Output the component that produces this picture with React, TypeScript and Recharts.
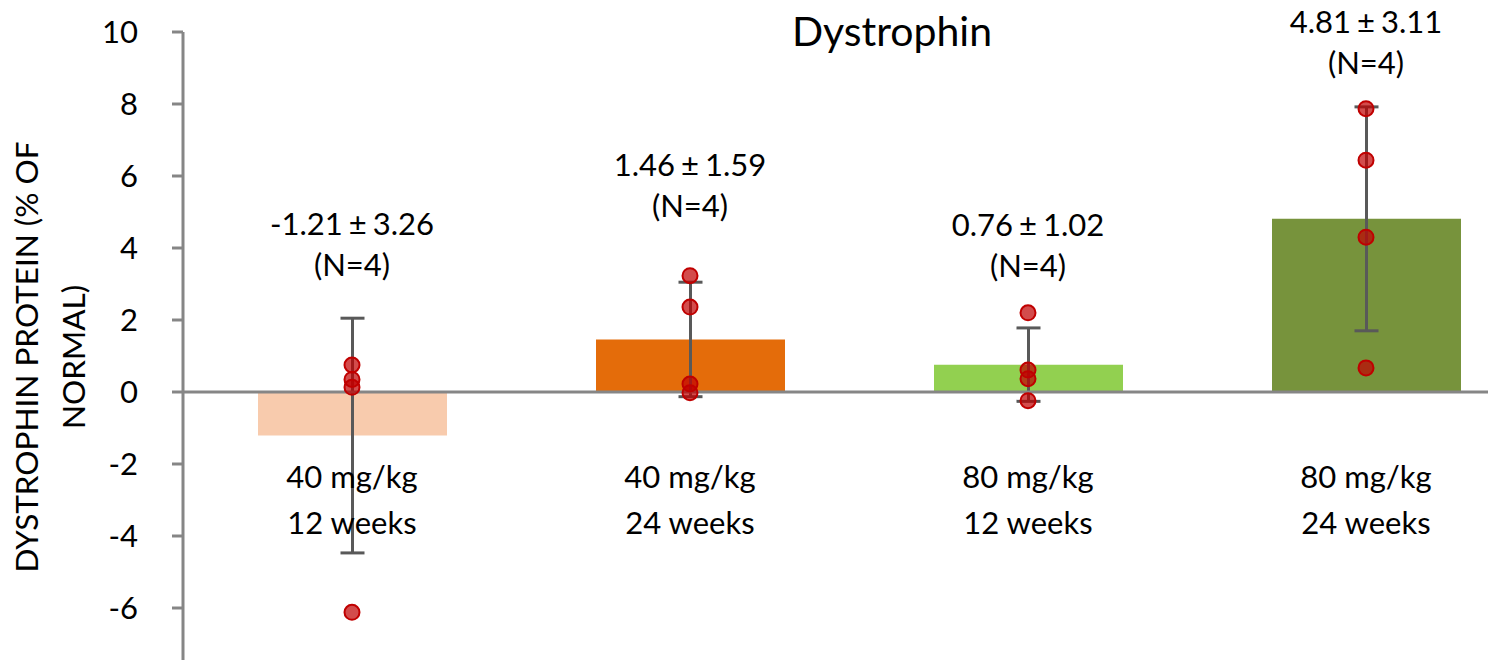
import React from "react";
import {
  ComposedChart,
  Bar,
  Cell,
  ErrorBar,
  Line,
  XAxis,
  YAxis,
  ReferenceLine,
  ReferenceDot,
} from "recharts";

// groups
const doseLabels = ["40 mg/kg", "40 mg/kg", "80 mg/kg", "80 mg/kg"];
const durationLabels = ["12 weeks", "24 weeks", "12 weeks", "24 weeks"];
const groupKeys = ["40-12", "40-24", "80-12", "80-24"];

// mean ± SD, % of normal
const means = [-1.21, 1.46, 0.76, 4.81];
const sds = [3.26, 1.59, 1.02, 3.11];
const nCounts = [4, 4, 4, 4];

// individual patients
const point1 = [0.75, 3.23, 2.2, 7.87];
const point2 = [0.35, 2.36, 0.61, 6.44];
const point3 = [0.13, 0.22, 0.37, 4.3];
const point4 = [-6.12, -0.02, -0.24, 0.67];

// where the stats text sits (y value of the first line)
const statsLabelAt = [4.36, 6.0, 4.33, 9.97];

const yTicks = [-6, -4, -2, 0, 2, 4, 6, 8, 10];

const barColors = ["#F8CBAD", "#E46C0A", "#92D050", "#77933C"];

const data = groupKeys.map((key, i) => ({
  key,
  mean: means[i],
  sd: sds[i],
  p1: point1[i],
  p2: point2[i],
  p3: point3[i],
  p4: point4[i],
}));

const TOP = 32;
const UNIT = 36;
const ZERO_Y = TOP + 10 * UNIT;
const TEXT_SIZE = 31;

const dotStyle = {
  r: 7.5,
  fill: "#C00000",
  fillOpacity: 0.7,
  stroke: "#C00000",
  strokeWidth: 2,
};

function CategoryTick(props: any) {
  const { x, index } = props;
  return (
    <g>
      <text x={x} y={ZERO_Y + 96} textAnchor="middle" fontSize={TEXT_SIZE} fill="#000">
        {doseLabels[index]}
      </text>
      <text x={x} y={ZERO_Y + 142} textAnchor="middle" fontSize={TEXT_SIZE} fill="#000">
        {durationLabels[index]}
      </text>
    </g>
  );
}

function statsShape(i: number) {
  return (props: any) => (
    <g>
      <text x={props.cx} y={props.cy} textAnchor="middle" fontSize={TEXT_SIZE} fill="#000">
        {means[i].toFixed(2)}
        <tspan dx={6}>±</tspan>
        <tspan dx={6}>{sds[i].toFixed(2)}</tspan>
      </text>
      <text x={props.cx} y={props.cy + 41} textAnchor="middle" fontSize={TEXT_SIZE} fill="#000">
        {`(N=${nCounts[i]})`}
      </text>
    </g>
  );
}

export default function App() {
  return (
    <div
      style={{
        position: "fixed",
        left: 0,
        top: 0,
        width: 1488,
        height: 660,
        overflow: "hidden",
        background: "#fff",
        fontFamily: "Lato, sans-serif",
      }}
    >
      <ComposedChart
        width={1535}
        height={700}
        data={data}
        margin={{ top: TOP, right: 0, bottom: 0, left: 0 }}
      >
        <XAxis
          dataKey="key"
          type="category"
          height={20}
          axisLine={false}
          tickLine={false}
          tick={<CategoryTick />}
          interval={0}
        />
        <YAxis
          type="number"
          domain={[-8, 10]}
          ticks={yTicks}
          interval={0}
          width={183}
          axisLine={{ stroke: "#868686", strokeWidth: 3 }}
          tickLine={{ stroke: "#868686", strokeWidth: 3 }}
          tickSize={11}
          tickMargin={34}
          tick={{ fontSize: 31, fill: "#000" }}
        />
        <Bar dataKey="mean" barSize={189} isAnimationActive={false}>
          {data.map((d, i) => (
            <Cell key={d.key} fill={barColors[i]} />
          ))}
          <ErrorBar
            dataKey="sd"
            width={12}
            stroke="#595959"
            strokeWidth={3}
            direction="y"
          />
        </Bar>
        <ReferenceLine y={0} stroke="#868686" strokeWidth={3} />
        {["p1", "p2", "p3", "p4"].map((k) => (
          <Line
            key={k}
            dataKey={k}
            stroke="none"
            dot={dotStyle}
            activeDot={false}
            isAnimationActive={false}
          />
        ))}
        {groupKeys.map((key, i) => (
          <ReferenceDot
            key={key}
            x={key}
            y={statsLabelAt[i]}
            r={0}
            ifOverflow="visible"
            shape={statsShape(i)}
          />
        ))}
      </ComposedChart>
      <div
        style={{
          position: "absolute",
          left: 892,
          top: 30,
          transform: "translate(-50%, -50%)",
          fontSize: 41,
          whiteSpace: "nowrap",
          color: "#000",
        }}
      >
        Dystrophin
      </div>
      <div style={{ position: "absolute", left: 50, top: 357, width: 0, height: 0 }}>
        <div
          style={{
            position: "absolute",
            left: 0,
            top: 0,
            transform: "translate(-50%, -50%) rotate(-90deg)",
            fontSize: 31.5,
            lineHeight: "47px",
            textAlign: "center",
            whiteSpace: "nowrap",
            color: "#000",
          }}
        >
          DYSTROPHIN PROTEIN (% OF
          <br />
          NORMAL)
        </div>
      </div>
    </div>
  );
}
